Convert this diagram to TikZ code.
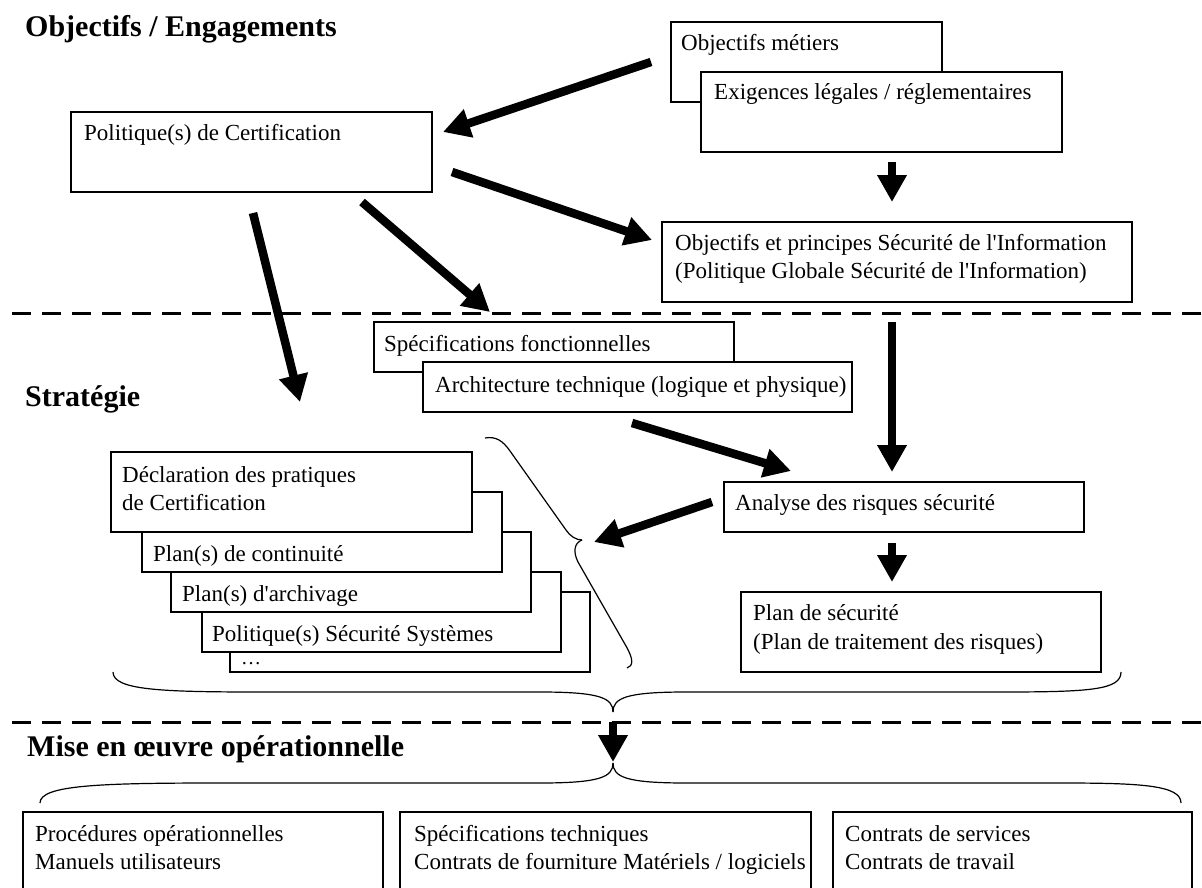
\documentclass[tikz,border=0pt]{standalone}
\usepackage{fontspec}
\setmainfont{Liberation Serif}[Ligatures=TeXOff]
\usetikzlibrary{arrows.meta}
\begin{document}
\begin{tikzpicture}[x=1pt,y=-1pt,
  box/.style={draw, fill=white, line width=1.2pt, inner sep=0pt, outer sep=0pt, anchor=north west},
  txt/.style={anchor=base west, inner sep=0pt, font=\fontsize{23}{28}\selectfont},
  hd/.style={anchor=base west, inner sep=0pt, font=\bfseries\fontsize{30}{36}\selectfont},
  bigarrow/.style={line width=8.5pt, -{Triangle[length=27pt,width=28pt]}},
  sepline/.style={line width=3pt, dash pattern=on 19pt off 11pt},
  bracepath/.style={line width=1.2pt}]
\useasboundingbox (0,0) rectangle (1202,888);
\clip (0,0) rectangle (1202,888);

% separators
\coordinate (s1a) at (12,313); \coordinate (s1b) at (1202,313);
\coordinate (s2a) at (12,722); \coordinate (s2b) at (1202,722);
\draw[sepline] (s1a) -- (s1b);
\draw[sepline] (s2a) -- (s2b);

% headings
\node[hd] (h1) at (25,37) {Objectifs / Engagements};
\node[hd] (h2) at (25,406) {Stratégie};
\node[hd] (h3) at (27,756) {Mise en œuvre opérationnelle};

% top level
\node[box, minimum width=361pt, minimum height=80pt] (pol) at (71,112) {};
\node[txt] (polt) at (84,141) {Politique(s) de Certification};

\node[box, minimum width=271pt, minimum height=80pt] (om) at (671,22) {};
\node[txt] (omt) at (681,51) {Objectifs métiers};
\node[box, minimum width=361pt, minimum height=80pt] (ex) at (701,72) {};
\node[txt] (ext) at (714,100) {Exigences légales / réglementaires};

\node[box, minimum width=470pt, minimum height=80pt] (oip) at (662,222) {};
\node[txt] (oipa) at (675,250) {Objectifs et principes Sécurité de l'Information};
\node[txt] (oipb) at (675,278) {(Politique Globale Sécurité de l'Information)};

% strategy
\node[box, minimum width=360pt, minimum height=50pt] (spec) at (374,322) {};
\node[txt] (spect) at (384,351) {Spécifications fonctionnelles};
\node[box, minimum width=429pt, minimum height=50pt] (arch) at (423,362) {};
\node[txt] (archt) at (435,392) {Architecture technique (logique et physique)};

\node[box, minimum width=360pt, minimum height=80pt] (b5) at (230,592) {};
\node[txt, font=\fontsize{20}{24}\selectfont] (b5t) at (241,664) {\dots};
\node[box, minimum width=359pt, minimum height=80pt] (b4) at (202,572) {};
\node[txt] (b4t) at (212,641) {Politique(s) Sécurité Systèmes};
\node[box, minimum width=360pt, minimum height=80pt] (b3) at (171,532) {};
\node[txt] (b3t) at (182,601) {Plan(s) d'archivage};
\node[box, minimum width=360pt, minimum height=80pt] (b2) at (142,492) {};
\node[txt] (b2t) at (153,561) {Plan(s) de continuité};
\node[box, minimum width=361pt, minimum height=80pt] (b1) at (111,452) {};
\node[txt] (b1a) at (122,482) {Déclaration des pratiques};
\node[txt] (b1b) at (122,510) {de Certification};

\node[box, minimum width=360pt, minimum height=50pt] (ana) at (724,482) {};
\node[txt] (anat) at (735,510) {Analyse des risques sécurité};
\node[box, minimum width=360pt, minimum height=80pt] (plan) at (741,592) {};
\node[txt] (plana) at (753,620) {Plan de sécurité};
\node[txt] (planb) at (753,649) {(Plan de traitement des risques)};

% bottom
\node[box, minimum width=360pt, minimum height=110pt] (o1) at (23,812) {};
\node[txt] (o1a) at (35,841) {Procédures opérationnelles};
\node[txt] (o1b) at (35,869) {Manuels utilisateurs};
\node[box, minimum width=411pt, minimum height=110pt] (o2) at (400,812) {};
\node[txt] (o2a) at (414,841) {Spécifications techniques};
\node[txt] (o2b) at (414,869) {Contrats de fourniture Matériels / logiciels};
\node[box, minimum width=359pt, minimum height=110pt] (o3) at (833,812) {};
\node[txt] (o3a) at (845,841) {Contrats de services};
\node[txt] (o3b) at (845,869) {Contrats de travail};

% braces
\coordinate (brtop) at (485,438);
\coordinate (brtip) at (582,540);
\coordinate (brbot) at (627,668);
\draw[bracepath] (brtop) .. controls (496,436) and (503,441) .. (510,451)
  -- (566,530) .. controls (570,536) and (576,540) .. (brtip);
\draw[bracepath] (brtip) .. controls (574,543) and (573,552) .. (578,562)
  -- (626,646) .. controls (634,660) and (633,666) .. (brbot);

\coordinate (ubl) at (113,672);
\coordinate (ubtip) at (613,712);
\coordinate (ubr) at (1121,672);
\draw[bracepath] (ubl) .. controls (113,690) and (160,692) .. (260,692)
  -- (540,692) .. controls (600,692) and (613,698) .. (ubtip);
\draw[bracepath] (ubtip) .. controls (613,698) and (626,692) .. (686,692)
  -- (1000,692) .. controls (1090,692) and (1121,690) .. (ubr);

\coordinate (lbl) at (40,803);
\coordinate (lbtip) at (613,763);
\coordinate (lbr) at (1181,803);
\draw[bracepath] (lbl) .. controls (40,785) and (100,783) .. (220,783)
  -- (540,783) .. controls (600,783) and (613,777) .. (lbtip);
\draw[bracepath] (lbtip) .. controls (613,777) and (626,783) .. (686,783)
  -- (1060,783) .. controls (1140,783) and (1181,785) .. (lbr);

% arrows
\coordinate (a1s) at (651,62);  \coordinate (a1e) at (443,132);
\coordinate (a2s) at (452,172); \coordinate (a2e) at (652,240);
\coordinate (a3s) at (362,202); \coordinate (a3e) at (490,312);
\coordinate (a4s) at (253,213); \coordinate (a4e) at (300,402);
\coordinate (a5s) at (892,162); \coordinate (a5e) at (892,202);
\coordinate (a6s) at (892,322); \coordinate (a6e) at (892,472);
\coordinate (a7s) at (632,423); \coordinate (a7e) at (791,471);
\coordinate (a8s) at (712,502); \coordinate (a8e) at (594,542);
\coordinate (a9s) at (892,543); \coordinate (a9e) at (892,582);
\coordinate (a10s) at (613,722); \coordinate (a10e) at (613,762);
\draw[bigarrow] (a1s) -- (a1e);
\draw[bigarrow] (a2s) -- (a2e);
\draw[bigarrow] (a3s) -- (a3e);
\draw[bigarrow] (a4s) -- (a4e);
\draw[bigarrow] (a5s) -- (a5e);
\draw[bigarrow] (a6s) -- (a6e);
\draw[bigarrow] (a7s) -- (a7e);
\draw[bigarrow] (a8s) -- (a8e);
\draw[bigarrow] (a9s) -- (a9e);
\draw[bigarrow] (a10s) -- (a10e);
\end{tikzpicture}
\end{document}
